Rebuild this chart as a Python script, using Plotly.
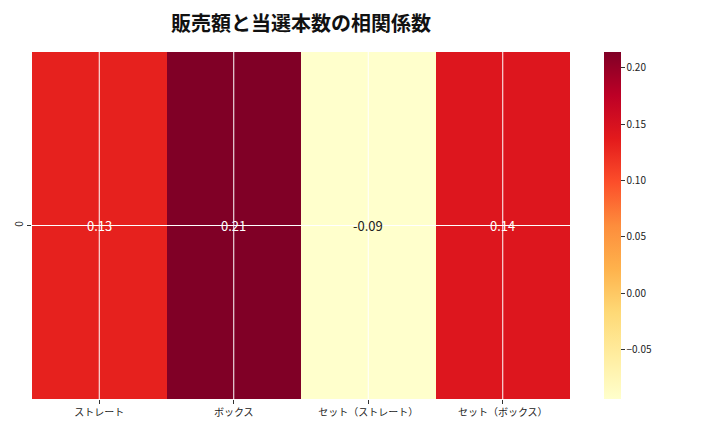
import plotly.graph_objects as go

categories = ["ストレート", "ボックス", "セット（ストレート）", "セット（ボックス）"]
row_labels = ["0"]
values = [0.132, 0.214, -0.094, 0.143]
labels = ["0.13", "0.21", "-0.09", "0.14"]

FONT = "Noto Sans CJK JP"
zmin, zmax = min(values), max(values)

fig = go.Figure(go.Heatmap(
    z=[values], x=categories, y=row_labels,
    colorscale="YlOrRd", zmin=zmin, zmax=zmax,
    xgap=0, ygap=0,
    colorbar=dict(
        x=1.063, xanchor="left", xpad=0, y=0, yanchor="bottom", ypad=0,
        len=1, lenmode="fraction", thickness=17, outlinewidth=0,
        tickvals=[-0.05, 0, 0.05, 0.10, 0.15, 0.20],
        ticktext=["−0.05", "0.00", "0.05", "0.10", "0.15", "0.20"],
        ticks="outside", ticklen=4, tickcolor="#333",
        tickfont=dict(family=FONT, size=10, color="#222"),
    ),
    hoverinfo="skip",
))

for c, v, t in zip(categories, values, labels):
    frac = (v - zmin) / (zmax - zmin)
    fig.add_annotation(x=c, y=row_labels[0], text=t, showarrow=False,
                       font=dict(family=FONT, size=13, color="white" if frac > 0.4 else "#222"))

# white grid lines drawn above the cells
for c in categories:
    fig.add_shape(type="line", xref="x", yref="paper", x0=c, x1=c, y0=0, y1=1,
                  line=dict(color="white", width=1), layer="above")
fig.add_shape(type="line", xref="paper", yref="y", x0=0, x1=1, y0=row_labels[0], y1=row_labels[0],
              line=dict(color="white", width=1), layer="above")

fig.update_layout(
    width=720, height=432,
    margin=dict(l=24, r=158, t=44, b=41, autoexpand=False),
    paper_bgcolor="white", plot_bgcolor="white",
    title=dict(text="<b>販売額と当選本数の相関係数</b>", x=293 / 720, xanchor="center",
               y=1 - 16 / 432, yanchor="middle",
               font=dict(family=FONT, size=20, color="#111")),
    font=dict(family=FONT),
    xaxis=dict(showgrid=False, automargin=False,
               ticks="outside", ticklen=4, tickcolor="#333",
               tickfont=dict(family=FONT, size=10, color="#222"), zeroline=False),
    yaxis=dict(showgrid=False, automargin=False,
               ticks="outside", ticklen=4, tickcolor="#333", tickangle=-90,
               tickfont=dict(family=FONT, size=10, color="#222"), zeroline=False),
)

fig.write_html("out.html")
